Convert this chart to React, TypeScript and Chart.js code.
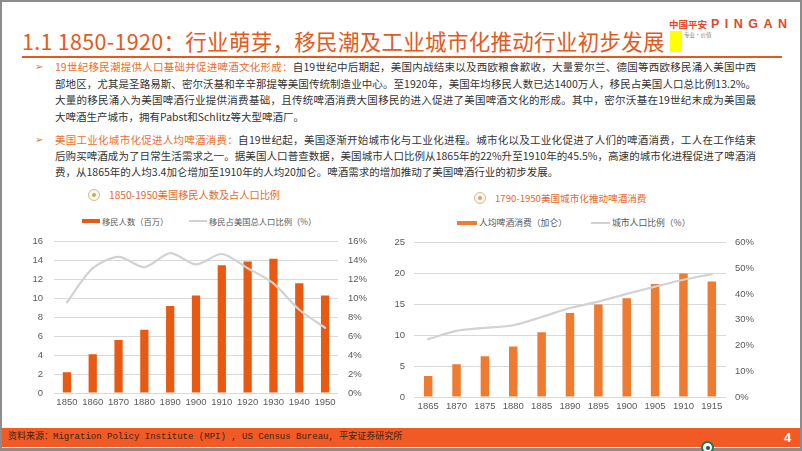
import React, { useEffect, useRef } from 'react';
import { Chart, registerables } from 'chart.js';
Chart.register(...registerables);

// ---- data ----
const immYears = ['1850', '1860', '1870', '1880', '1890', '1900', '1910', '1920', '1930', '1940', '1950'];
const immCount = [2.2, 4.1, 5.6, 6.7, 9.2, 10.3, 13.5, 13.9, 14.2, 11.6, 10.3];
const immShare = [9.6, 13.2, 14.4, 13.3, 14.8, 13.6, 14.7, 13.2, 11.6, 8.8, 6.9];
const immBarLabel = '移民人数（百万）';
const immLineLabel = '移民占美国总人口比例（%）';

const urbYears = ['1865', '1870', '1875', '1880', '1885', '1890', '1895', '1900', '1905', '1910', '1915'];
const beerPerCapita = [3.4, 5.3, 6.6, 8.2, 10.5, 13.6, 15.0, 16.0, 18.3, 20.0, 18.7];
const urbanShare = [22.5, 25.7, 26.9, 27.9, 31.1, 34.6, 37.1, 40.1, 42.9, 45.6, 47.8];
const urbBarLabel = '人均啤酒消费（加仑）';
const urbLineLabel = '城市人口比例（%）';

const TICK_FONT = { family: '"Liberation Sans", Arial, sans-serif', size: 9.5 };
const TICK_COLOR = '#595959';
const LINE_COLOR = '#D2D2D2';

type Dims = {
  w: number; h: number; yW: number; y1W: number; xH: number; padTop: number;
  yPad: number; y1Pad: number; xPad: number; barPct: number;
};

function makeConfig(labels: string[], bars: number[], line: number[], barColor: string,
  barLabel: string, lineLabel: string, yMax: number, yStep: number, y1Max: number, y1Step: number, d: Dims): any {
  return {
    type: 'bar',
    data: {
      labels,
      datasets: [
        {
          type: 'line', label: lineLabel, data: line, yAxisID: 'y1', borderColor: LINE_COLOR,
          backgroundColor: LINE_COLOR, borderWidth: 2.2, pointRadius: 0, tension: 0.28, order: 0,
          borderCapStyle: 'round',
        },
        {
          type: 'bar', label: barLabel, data: bars, yAxisID: 'y', backgroundColor: barColor,
          borderWidth: 0, barPercentage: d.barPct, categoryPercentage: 1, order: 1,
        },
      ],
    },
    options: {
      responsive: false,
      maintainAspectRatio: false,
      animation: false,
      devicePixelRatio: 1,
      layout: { padding: { top: d.padTop, left: 0, right: 0, bottom: 0 } },
      plugins: { legend: { display: false }, tooltip: { enabled: false } },
      scales: {
        x: {
          grid: { display: false, drawTicks: false },
          border: { display: false },
          ticks: { font: TICK_FONT, color: TICK_COLOR, padding: d.xPad, maxRotation: 0 },
          afterFit: (s: any) => { s.height = d.xH; },
        },
        y: {
          position: 'left', min: 0, max: yMax,
          grid: { color: '#D9D9D9', lineWidth: 1, drawTicks: false },
          border: { display: false },
          ticks: { stepSize: yStep, font: TICK_FONT, color: TICK_COLOR, padding: d.yPad },
          afterFit: (s: any) => { s.width = d.yW; },
        },
        y1: {
          position: 'right', min: 0, max: y1Max,
          grid: { display: false, drawTicks: false },
          border: { display: false },
          ticks: { stepSize: y1Step, font: TICK_FONT, color: TICK_COLOR, padding: d.y1Pad, callback: (v: any) => v + '%' },
          afterFit: (s: any) => { s.width = d.y1W; },
        },
      },
    },
  };
}

function ChartCanvas({ config, left, top, w, h }: { config: any; left: number; top: number; w: number; h: number }) {
  const ref = useRef<HTMLCanvasElement>(null);
  useEffect(() => {
    if (!ref.current) return;
    const c = new Chart(ref.current, config);
    return () => c.destroy();
  }, []);
  return <canvas ref={ref} width={w} height={h} style={{ position: 'absolute', left, top, width: w, height: h }} />;
}

const ORANGE = '#E4591C';
const HEAD = '#EB6E2D';
const CJK = '"Noto Sans CJK SC", "Noto Sans", sans-serif';

function Icon({ x, y }: { x: number; y: number }) {
  return (
    <div style={{ position: 'absolute', left: x - 6, top: y - 6, width: 12, height: 12, borderRadius: 6, boxSizing: 'border-box', border: '1.5px solid #D2BC93', background: '#FBF6EC' }}>
      <div style={{ position: 'absolute', left: 2.5, top: 2.5, width: 4, height: 4, borderRadius: 2, background: '#C6A868' }} />
    </div>
  );
}

function Line({ y, children, last }: { y: number; children: any; last?: boolean }) {
  return (
    <div style={{ position: 'absolute', left: 55, top: y - 8, width: 701, height: 16, lineHeight: '16px', fontSize: 10.5, color: '#333', whiteSpace: 'nowrap', textAlign: 'justify', textAlignLast: last ? 'left' : 'justify' } as any}>
      {children}
    </div>
  );
}

function Legend({ y, items, size }: { y: number; items: { sx: number; sw: number; sh: number; color: string; tx: number; text: string }[]; size: number }) {
  return (
    <>
      {items.map((it, i) => (
        <React.Fragment key={i}>
          <div style={{ position: 'absolute', left: it.sx, top: y - it.sh / 2, width: it.sw, height: it.sh, background: it.color }} />
          <div style={{ position: 'absolute', left: it.tx, top: y - 7, height: 14, lineHeight: '14px', fontSize: size, color: '#595959', whiteSpace: 'nowrap' }}>{it.text}</div>
        </React.Fragment>
      ))}
    </>
  );
}

export default function App() {
  const leftDims: Dims = { w: 370, h: 192, yW: 40, y1W: 46, xH: 24, padTop: 13, yPad: 11, y1Pad: 10, xPad: 4, barPct: 0.32 };
  const rightDims: Dims = { w: 390, h: 193, yW: 29, y1W: 49, xH: 24, padTop: 14, yPad: 9, y1Pad: 9, xPad: 4, barPct: 0.3 };
  const leftCfg = makeConfig(immYears, immCount, immShare, '#E85A12', immBarLabel, immLineLabel, 16, 2, 16, 2, leftDims);
  const rightCfg = makeConfig(urbYears, beerPerCapita, urbanShare, '#EE7B30', urbBarLabel, urbLineLabel, 25, 5, 60, 10, rightDims);

  return (
    <div style={{ position: 'relative', width: 802, height: 451, overflow: 'hidden', background: '#fff', fontFamily: CJK }}>
      <style>{'body{margin:0}'}</style>
      {/* frame */}
      <div style={{ position: 'absolute', left: 0, top: 0, width: 802, height: 451, boxSizing: 'border-box', borderTop: '2px solid #8C8C8C', borderLeft: '2px solid #8C8C8C', borderRight: '2px solid #8C8C8C', borderBottom: '3px solid #8C8C8C' }} />

      {/* title */}
      <div style={{ position: 'absolute', left: 22, top: 28, height: 26, lineHeight: '26px', fontSize: 21.5, letterSpacing: 0.3, color: ORANGE, whiteSpace: 'nowrap' }}>
        1.1 1850-1920：行业萌芽，移民潮及工业城市化推动行业初步发展
      </div>
      <div style={{ position: 'absolute', left: 670, top: 31, width: 12, height: 21, background: '#FFFF00' }} />
      <div style={{ position: 'absolute', left: 22, top: 56, width: 760, height: 2, background: ORANGE }} />

      {/* logo */}
      <div style={{ position: 'absolute', left: 669, top: 16, height: 16, lineHeight: '16px', fontSize: 9.5, fontWeight: 700, color: '#E2472A', whiteSpace: 'nowrap' }}>中国平安</div>
      <div style={{ position: 'absolute', left: 711, top: 16, height: 16, lineHeight: '16px', fontSize: 12.5, fontWeight: 700, letterSpacing: 5.5, color: '#E2472A', fontFamily: '"Liberation Sans", Arial, sans-serif', whiteSpace: 'nowrap' }}>PINGAN</div>
      <div style={{ position: 'absolute', left: 684, top: 31, height: 8, lineHeight: '8px', fontSize: 5.5, color: '#888', whiteSpace: 'nowrap' }}>专业·价值</div>

      {/* bullets */}
      <div style={{ position: 'absolute', left: 35, top: 59, fontSize: 10, lineHeight: '16px', color: HEAD, fontFamily: '"DejaVu Sans", sans-serif' }}>➢</div>
      <div style={{ position: 'absolute', left: 35, top: 132, fontSize: 10, lineHeight: '16px', color: HEAD, fontFamily: '"DejaVu Sans", sans-serif' }}>➢</div>

      <Line y={67}><span style={{ color: HEAD }}>19世纪移民潮提供人口基础并促进啤酒文化形成：</span>自19世纪中后期起，美国内战结束以及西欧粮食歉收，大量爱尔兰、德国等西欧移民涌入美国中西</Line>
      <Line y={83.5}>部地区，尤其是圣路易斯、密尔沃基和辛辛那提等美国传统制造业中心。至1920年，美国年均移民人数已达1400万人，移民占美国人口总比例13.2%。</Line>
      <Line y={100}>大量的移民涌入为美国啤酒行业提供消费基础，且传统啤酒消费大国移民的进入促进了美国啤酒文化的形成。其中，密尔沃基在19世纪末成为美国最</Line>
      <Line y={116.5} last>大啤酒生产城市，拥有Pabst和Schlitz等大型啤酒厂。</Line>

      <Line y={140}><span style={{ color: HEAD }}>美国工业化城市化促进人均啤酒消费：</span>自19世纪起，美国逐渐开始城市化与工业化进程。城市化以及工业化促进了人们的啤酒消费，工人在工作结束</Line>
      <Line y={156}>后购买啤酒成为了日常生活需求之一。据美国人口普查数据，美国城市人口比例从1865年的22%升至1910年的45.5%，高速的城市化进程促进了啤酒消</Line>
      <Line y={172} last>费，从1865年的人均3.4加仑增加至1910年的人均20加仑。啤酒需求的增加推动了美国啤酒行业的初步发展。</Line>

      {/* left chart header */}
      <Icon x={94} y={195} />
      <div style={{ position: 'absolute', left: 109, top: 188, height: 14, lineHeight: '14px', fontSize: 10.2, color: '#E3692F', whiteSpace: 'nowrap' }}>1850-1950美国移民人数及占人口比例</div>
      <Legend y={221} size={8.3} items={[
        { sx: 82, sw: 18, sh: 4, color: '#E85A12', tx: 102, text: immBarLabel },
        { sx: 189, sw: 18, sh: 2, color: LINE_COLOR, tx: 209, text: immLineLabel },
      ]} />
      <ChartCanvas config={leftCfg} left={14} top={225} w={leftDims.w} h={leftDims.h} />

      {/* right chart header */}
      <Icon x={480} y={198} />
      <div style={{ position: 'absolute', left: 495, top: 191, height: 14, lineHeight: '14px', fontSize: 9.6, color: '#E3692F', whiteSpace: 'nowrap' }}>1790-1950美国城市化推动啤酒消费</div>
      <Legend y={223} size={8.8} items={[
        { sx: 457, sw: 20, sh: 4, color: '#EE7B30', tx: 479, text: urbBarLabel },
        { sx: 591, sw: 19, sh: 2, color: LINE_COLOR, tx: 612, text: urbLineLabel },
      ]} />
      <ChartCanvas config={rightCfg} left={385} top={228} w={rightDims.w} h={rightDims.h} />

      {/* footer */}
      <div style={{ position: 'absolute', left: 2, top: 428, width: 798, height: 19, background: '#F15A24' }} />
      <div style={{ position: 'absolute', left: 8, top: 429, height: 17, lineHeight: '17px', fontSize: 9, color: '#3A2414', whiteSpace: 'nowrap', fontFamily: '"Liberation Mono", "Noto Sans CJK SC", monospace' }}>
        资料来源：Migration Policy Institute (MPI) , US Census Bureau, 平安证券研究所
      </div>
      <div style={{ position: 'absolute', left: 784, top: 429, height: 17, lineHeight: '17px', fontSize: 13, fontWeight: 700, color: '#fff', fontFamily: '"Liberation Sans", Arial, sans-serif' }}>4</div>
      <div style={{ position: 'absolute', left: 701, top: 441, width: 13, height: 13, borderRadius: 7, boxSizing: 'border-box', border: '2px solid #1E7A5C', background: '#fff' }}>
        <div style={{ position: 'absolute', left: 2.5, top: 2.5, width: 4, height: 4, borderRadius: 2, background: '#1E5A4A' }} />
      </div>
    </div>
  );
}
